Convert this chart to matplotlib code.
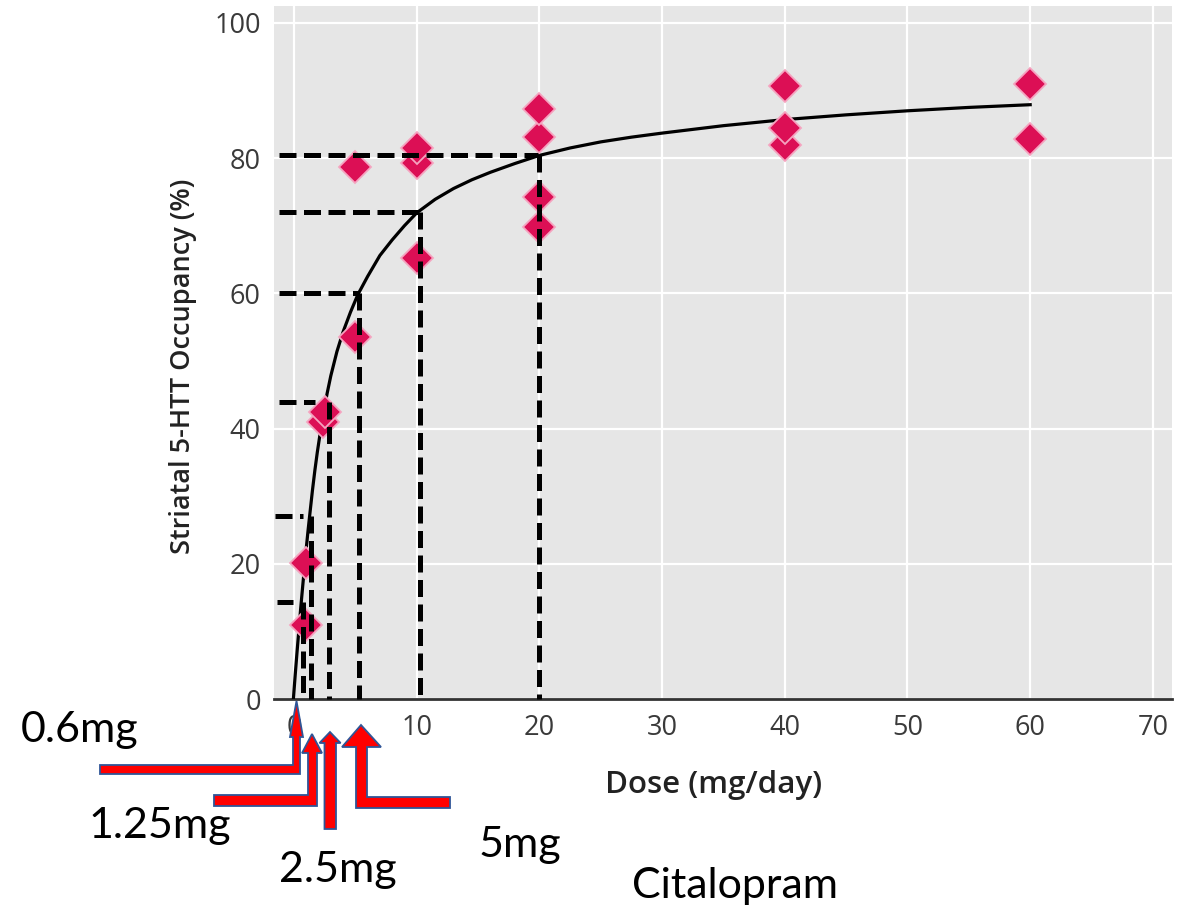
import matplotlib
matplotlib.use("Agg")
import matplotlib.pyplot as plt
from matplotlib.patches import Polygon

# ---------------- data ----------------
dose_points = [1.0, 1.0, 2.4, 2.5, 5.0, 5.0, 10.0, 10.0, 10.0,
               20.0, 20.0, 20.0, 20.0, 40.0, 40.0, 40.0, 60.0, 60.0]
occupancy_points = [10.9, 20.1, 41.0, 42.5, 53.5, 78.7, 65.3, 79.3, 81.5,
                    69.8, 74.3, 83.1, 87.2, 82.0, 84.4, 90.6, 82.8, 91.0]

fit_dose = [-0.05, 0.1, 0.25, 0.4, 0.55, 0.7, 0.85, 1.0, 1.15, 1.3, 1.5, 1.7,
            1.9, 2.15, 2.4, 2.7, 3.0, 3.5, 4.0, 4.6, 5.2, 6.0, 7.0, 8.0, 9.0,
            10.0, 11.5, 13.0, 14.5, 16.0, 18.0, 20.0, 22.5, 25.0, 27.5, 30.0,
            35.0, 40.0, 45.0, 50.0, 55.0, 60.0]
fit_occupancy = [0.0, 3.6, 7.0, 10.3, 13.5, 16.5, 19.5, 22.3, 25.0, 27.5, 30.8, 33.8,
                 36.5, 39.5, 42.3, 45.2, 47.8, 51.4, 54.3, 57.2, 59.8, 62.5, 65.6, 67.9, 70.0,
                 71.9, 73.9, 75.5, 76.8, 77.9, 79.2, 80.4, 81.5, 82.4, 83.1, 83.7,
                 84.8, 85.7, 86.4, 87.0, 87.5, 87.9]

# dashed read-off guides (as drawn in the picture)
guide_level = [14.4, 27.1, 43.9, 60.0, 72.0, 80.5]
guide_h_start = [-1.35, -1.55, -1.2, -1.2, -1.2, -1.2]
guide_h_end = [-0.1, 0.75, 1.7, 5.2, 10.4, 19.9]
guide_v_x = [0.76, 1.36, 2.83, 5.27, 10.3, 20.0]

x_ticks = [0, 10, 20, 30, 40, 50, 60, 70]
y_ticks = [0, 20, 40, 60, 80, 100]

dose_labels = ["0.6mg", "1.25mg", "2.5mg", "5mg"]
drug_name = "Citalopram"

# ---------------- figure ----------------
W, H = 1189, 910
fig = plt.figure(figsize=(W / 100, H / 100), dpi=100)
ax = fig.add_axes([274 / W, 1 - 699 / H, (1172 - 274) / W, (699 - 6) / H])
ax.set_facecolor("#e6e6e6")
ax.set_xlim(-1.63, 71.56)
ax.set_ylim(0, 102.5)

for s in ["top", "right", "left"]:
    ax.spines[s].set_visible(False)
ax.spines["bottom"].set_color("#333333")
ax.spines["bottom"].set_linewidth(2.0)

ax.set_xticks(x_ticks)
ax.set_yticks(y_ticks)
ax.grid(True, color="white", linewidth=1.6)
ax.set_axisbelow(True)
ax.tick_params(axis="both", length=0, labelsize=19.5, labelcolor="#3a3a3a")
ax.tick_params(axis="x", pad=11)
ax.tick_params(axis="y", pad=9.5)
for lab in ax.get_xticklabels() + ax.get_yticklabels():
    lab.set_fontfamily("Open Sans")

ax.set_xlabel("Dose (mg/day)", fontsize=22.5, fontfamily="Open Sans",
              fontweight="semibold", color="#222222")
ax.xaxis.set_label_coords(0.49, -0.102)
ax.set_ylabel("Striatal 5-HTT Occupancy (%)", fontsize=19.5, fontfamily="Open Sans",
              fontweight="semibold", color="#222222")
ax.yaxis.set_label_coords(-0.086, 0.4805)

# fitted curve
ax.plot(fit_dose, fit_occupancy, color="black", lw=2.3, zorder=3,
        solid_joinstyle="round")

# data points
ax.plot(dose_points, occupancy_points, linestyle="none", marker="D",
        markersize=16, markerfacecolor="#dc0f55", markeredgecolor="#f5a3bf",
        markeredgewidth=1.3, zorder=4, clip_on=False)

# dashed guides
for lvl, hs, he, vx in zip(guide_level, guide_h_start, guide_h_end, guide_v_x):
    ax.plot([hs, he], [lvl, lvl], color="black", lw=3.6, dashes=(3.4, 1.5),
            zorder=5, clip_on=False, dash_capstyle="butt")
    ax.plot([vx, vx], [lvl, 0], color="black", lw=3.6, dashes=(3.4, 1.5),
            zorder=5, clip_on=False, dash_capstyle="butt")

# ---------------- overlay (pixel coordinates) ----------------
ov = fig.add_axes([0, 0, 1, 1], facecolor="none")
ov.set_xlim(0, W)
ov.set_ylim(H, 0)
ov.axis("off")

arrows = [
    [(100, 765), (293, 765), (293, 737), (290, 737), (296.5, 701), (303, 737),
     (300, 737), (300, 774), (100, 774)],
    [(214, 795), (308, 795), (308, 753), (302, 753), (312, 734), (322, 753),
     (317, 753), (317, 806), (214, 806)],
    [(324.5, 829), (324.5, 743), (319.5, 743), (330, 732), (340.6, 743),
     (336, 743), (336, 829)],
    [(450, 797), (367, 797), (367, 747), (381, 747), (361, 725), (342, 747),
     (356, 747), (356, 808), (450, 808)],
]
for pts in arrows:
    ov.add_patch(Polygon(pts, closed=True, facecolor="#ff0000",
                         edgecolor="#2f5597", linewidth=1.3, zorder=10))

label_pos = [(80, 730), (160, 826), (338, 870), (520, 845)]
for txt, (px, py) in zip(dose_labels, label_pos):
    ov.text(px, py, txt, fontsize=31, fontfamily="Lato", color="black",
            ha="center", va="center", zorder=11)
ov.text(735, 886, drug_name, fontsize=31, fontfamily="Lato", color="black",
        ha="center", va="center", zorder=11)

fig.savefig("out.png", dpi=100)
